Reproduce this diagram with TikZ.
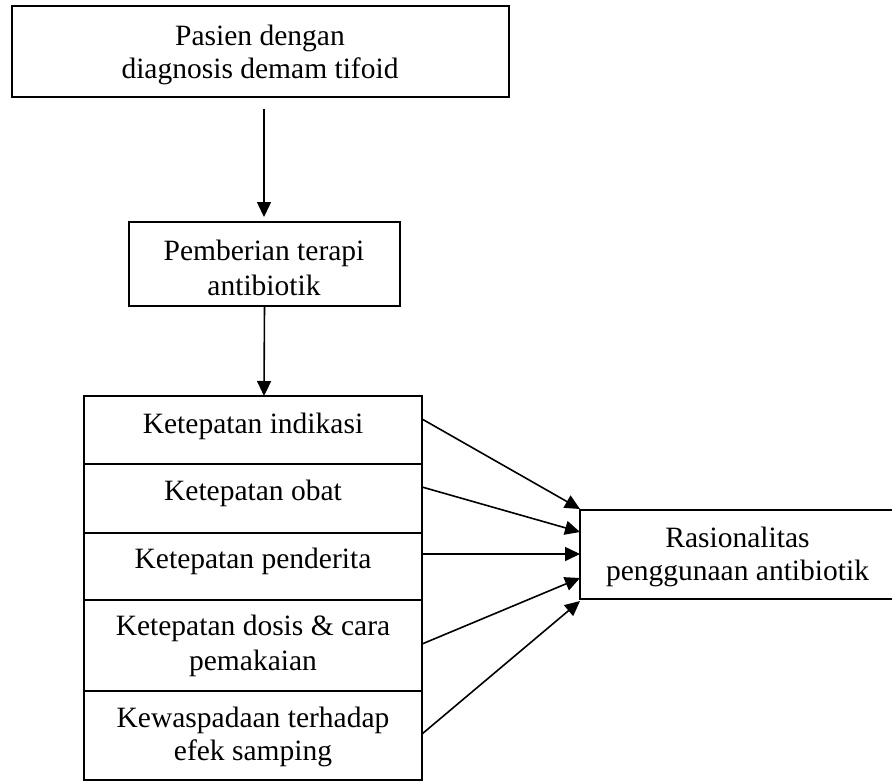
\documentclass[tikz,border=0pt]{standalone}
\usepackage{fontspec}
\setmainfont{Liberation Serif}
\usetikzlibrary{arrows.meta}
\begin{document}
\begin{tikzpicture}[x=1pt,y=-1pt,
  boxnode/.style={draw,line width=1.8pt,inner sep=0pt,outer sep=0pt},
  txt/.style={anchor=base,inner sep=0pt,font=\fontsize{29.5}{33}\selectfont},
  arr/.style={line width=1.6pt,-{Triangle[length=15pt,width=14pt]}}]
\useasboundingbox (0,0) rectangle (892,780);
% boxes
\node[boxnode,minimum width=497pt,minimum height=91pt] (top) at (260.5,51.5) {};
\node[boxnode,minimum width=271pt,minimum height=84pt] (ther) at (264.5,264) {};
\node[boxnode,minimum width=338pt,minimum height=68pt] (r1) at (253,430) {};
\node[boxnode,minimum width=338pt,minimum height=69pt] (r2) at (253,498.5) {};
\node[boxnode,minimum width=338pt,minimum height=67pt] (r3) at (253,566.5) {};
\node[boxnode,minimum width=338pt,minimum height=91pt] (r4) at (253,645.5) {};
\node[boxnode,minimum width=338pt,minimum height=89pt] (r5) at (253,735.5) {};
\node[boxnode,minimum width=314pt,minimum height=89pt] (rasio) at (737,554.5) {};
% texts
\node[txt] (t1a) at (260,45) {Pasien dengan};
\node[txt] (t1b) at (260,78) {diagnosis demam tifoid};
\node[txt] (t2a) at (264,260) {Pemberian terapi};
\node[txt] (t2b) at (264,295) {antibiotik};
\node[txt] (tr1) at (253,433) {Ketepatan indikasi};
\node[txt] (tr2) at (253,500) {Ketepatan obat};
\node[txt] (tr3) at (253,568) {Ketepatan penderita};
\node[txt] (tr4a) at (253,635) {Ketepatan dosis \& cara};
\node[txt] (tr4b) at (253,670) {pemakaian};
\node[txt] (tr5a) at (253,727) {Kewaspadaan terhadap};
\node[txt] (tr5b) at (253,760) {efek samping};
\node[txt] (tra) at (737.5,547) {Rasionalitas};
\node[txt] (trb) at (737.5,580) {penggunaan antibiotik};
% connector ends
\coordinate (a1s) at (264,109);
\coordinate (a1e) at (264,217);
\coordinate (a2e) at (264,396);
\coordinate (s1) at (422,419);
\coordinate (s2) at (422,487);
\coordinate (s3) at (422,554);
\coordinate (s4) at (422,644);
\coordinate (s5) at (422,734);
\coordinate (e1) at (580,509);
\coordinate (e2) at (580,532);
\coordinate (e3) at (580,554);
\coordinate (e4) at (580,578);
\coordinate (e5) at (580,601);
% arrows
\draw[arr] (a1s) -- (a1e);
\draw[arr] (ther.south) -- (a2e);
\draw[arr] (s1) -- (e1);
\draw[arr] (s2) -- (e2);
\draw[arr] (s3) -- (e3);
\draw[arr] (s4) -- (e4);
\draw[arr] (s5) -- (e5);
\end{tikzpicture}
\end{document}
